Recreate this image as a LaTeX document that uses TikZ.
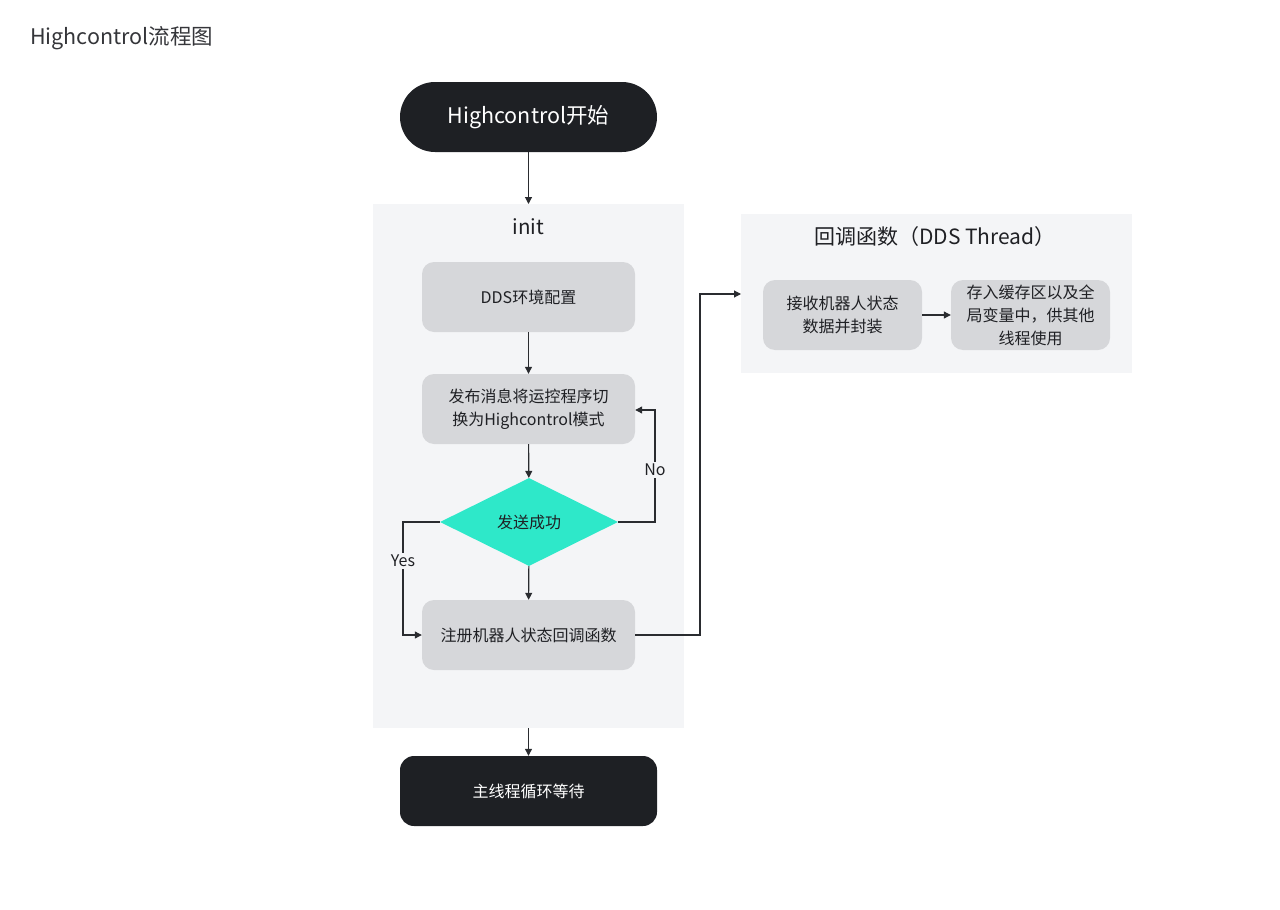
\documentclass[tikz,border=0pt]{standalone}
\usepackage{fontspec}
\setmainfont{Noto Sans CJK SC}
\usetikzlibrary{shapes.geometric,arrows.meta}
\definecolor{darkbox}{HTML}{1E2024}
\definecolor{grpbg}{HTML}{F4F5F7}
\definecolor{stepbg}{HTML}{D6D7DA}
\definecolor{teal}{HTML}{2EE8C9}
\definecolor{linec}{HTML}{2A2C30}
\definecolor{txt}{HTML}{1F2024}
\tikzset{
  group/.style={fill=grpbg, draw=none, inner sep=0pt, anchor=north west},
  stepbox/.style={fill=stepbg, draw=none, rounded corners=12pt, minimum width=213pt, minimum height=70pt, align=center, text=txt, font=\fontsize{16}{23}\selectfont, inner sep=0pt},
  smallbox/.style={stepbox, minimum width=159pt},
  term/.style={fill=darkbox, draw=none, minimum width=257pt, minimum height=70pt, text=white, inner sep=0pt},
  conn/.style={draw=linec, line width=1.1pt, -{Triangle[length=7pt,width=7pt]}},
  lbl/.style={fill=grpbg, inner sep=2pt, text=txt, font=\fontsize{16}{19}\selectfont},
}
\begin{document}
\begin{tikzpicture}[x=1pt,y=-1pt]
\useasboundingbox (0,0) rectangle (1280,910);
\node[anchor=west, text=txt!90, font=\fontsize{21.5}{25}\selectfont, inner sep=0pt] (title) at (30,38) {Highcontrol流程图};
% groups
\node[group, minimum width=311pt, minimum height=524pt] (init) at (373,204) {};
\node[font=\fontsize{20.5}{24}\selectfont, text=txt] (initlbl) at (528.5,227) {init};
\node[group, minimum width=391pt, minimum height=159pt] (cb) at (741,214) {};
\node[font=\fontsize{21}{25}\selectfont, text=txt] (cblbl) at (935,237) {回调函数（DDS Thread）};
% terminals
\node[term, rounded corners=35pt, font=\fontsize{21.5}{25}\selectfont] (start) at (528.5,117) {Highcontrol开始};
\node[term, rounded corners=14pt, font=\fontsize{16}{20}\selectfont] (end) at (528.5,791) {主线程循环等待};
% steps
\node[stepbox] (dds) at (528.5,297) {DDS环境配置};
\node[stepbox] (pub) at (528.5,409) {发布消息将运控程序切\\换为Highcontrol模式};
\node[diamond, fill=teal, draw=none, inner sep=0pt, minimum width=178pt, minimum height=88pt, aspect=2, text=txt, font=\fontsize{16}{19}\selectfont] (ok) at (529,522) {发送成功};
\node[stepbox] (reg) at (528.5,635) {注册机器人状态回调函数};
\node[smallbox] (recv) at (842.5,315) {接收机器人状态\\数据并封装};
\node[smallbox] (store) at (1030.5,315) {存入缓存区以及全\\局变量中，供其他\\线程使用};
% connectors
\draw[conn] (start.south) -- (start.south |- init.north);
\draw[conn] (dds) -- (pub);
\draw[conn] (pub) -- (ok);
\draw[conn] (ok) -- (reg);
\draw[conn] (ok.east) -- (655,522) |- (pub.east |- 0,410);
\node[lbl] (nolbl) at (655,470) {No};
\draw[conn] (ok.west) -- (403,522) |- (reg.west);
\node[lbl] (yeslbl) at (403,561) {Yes};
\draw[conn] (reg.east) -- (700,635) |- (cb.west |- 0,294);
\draw[conn] (recv) -- (store);
\draw[conn] (init.south -| start.south) -- (end);
\end{tikzpicture}
\end{document}
